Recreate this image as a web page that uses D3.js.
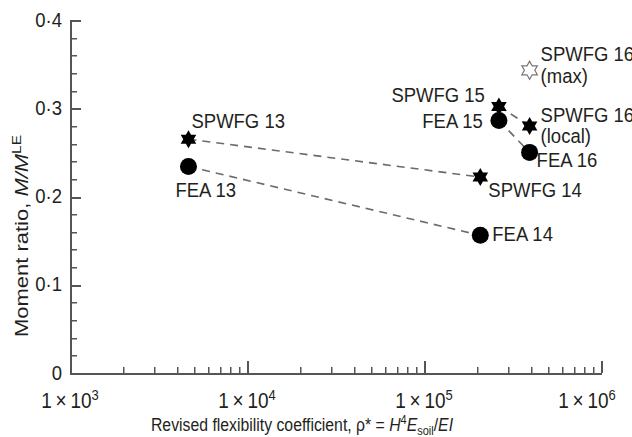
<!DOCTYPE html>
<html>
<head>
<meta charset="utf-8">
<script src="https://cdn.jsdelivr.net/npm/d3@7"></script>
<style>
  html, body { margin: 0; padding: 0; background: #fff; }
  svg { display: block; font-family: "Liberation Sans", Arial, sans-serif; }
</style>
</head>
<body>
<svg id="chart" width="632" height="437"></svg>
<script>
// Revised flexibility coefficient for each test case
const caseIds = ["13", "14", "15", "16"];
const flexibility = [4670, 2.08e5, 2.65e5, 3.95e5];
// Moment ratio M/M_LE
const spwfgRatio = [0.265, 0.222, 0.302, 0.280];
const feaRatio = [0.234, 0.156, 0.286, 0.250];
const spwfg16Max = 0.343;
// Pairs of cases joined by dashed lines
const links = [[0, 1], [2, 3]];
// Axis ticks
const xDecades = [3, 4, 5, 6];
const yMajor = [0, 0.1, 0.2, 0.3, 0.4];
const yMinor = [0.02, 0.04, 0.06, 0.08, 0.12, 0.14, 0.16, 0.18, 0.22, 0.24, 0.26, 0.28, 0.32, 0.34, 0.36, 0.38];

const svg = d3.select("#chart");
const plotLeft = 70, plotRight = 601, plotTop = 20, plotBottom = 373;

const xScale = d3.scaleLog().domain([1e3, 1e6]).range([plotLeft, plotRight]);
const yScale = d3.scaleLinear().domain([0, 0.4]).range([plotBottom, plotTop]);

const axisColor = "#555555";
const textColor = "#231f20";
// Text is drawn slightly taller than wide
const stretch = 1.12;

// Minor x ticks at 2..9 of each decade
const xMinor = [];
for (let dec = 3; dec < 6; dec++) for (let k = 2; k <= 9; k++) xMinor.push(k * Math.pow(10, dec));
const xMajor = xDecades.map(e => Math.pow(10, e));

// Axis frame drawn as thin filled bars: left and bottom rules with inward ticks
const frame = svg.append("g").attr("fill", axisColor);
const [x0, x1] = xScale.range();
const [y0, y1] = yScale.range();
frame.append("rect").attr("x", x0).attr("y", y0).attr("width", x1 - x0 + 1).attr("height", 2);
frame.append("rect").attr("x", x0).attr("y", y1).attr("width", 2).attr("height", y0 - y1 + 2);
frame.append("g").selectAll("rect").data(xMinor).join("rect")
  .attr("x", d => Math.round(xScale(d))).attr("y", y0 - 6).attr("width", 1.5).attr("height", 6);
frame.append("g").selectAll("rect").data(xMajor).join("rect")
  .attr("x", d => Math.round(xScale(d))).attr("y", y0 - 12).attr("width", 2).attr("height", 12);
frame.append("g").selectAll("rect").data(yMinor).join("rect")
  .attr("x", x0).attr("y", d => Math.round(yScale(d))).attr("width", 7).attr("height", 1.5);
frame.append("g").selectAll("rect").data(yMajor.filter(d => d > 0)).join("rect")
  .attr("x", x0).attr("y", d => Math.round(yScale(d))).attr("width", 11).attr("height", 2);

// Horizontal text helper: positioned by translate, stretched vertically
function hText(parent, tx, ty, size, anchor) {
  return parent.append("text")
    .attr("transform", `translate(${tx},${ty}) scale(1,${stretch})`)
    .attr("font-size", size).attr("fill", textColor)
    .attr("text-anchor", anchor || "start");
}

const fs = 18.5;

// y tick labels
yMajor.forEach(d => {
  hText(svg, plotLeft - 8, yScale(d) + 6.5, 18.5, "end")
    .text(d === 0 ? "0" : d3.format(".1f")(d).replace(".", "\u00b7"));
});

// x tick labels: 1 × 10^n
xDecades.forEach(d => {
  const t = hText(svg, xScale(Math.pow(10, d)) - (d === 6 ? 14 : 0), 408, 19, "middle");
  t.append("tspan").text("1\u2009\u00d7\u200910");
  t.append("tspan").attr("font-size", 13).attr("dy", -7).text(d);
});

// Axis titles
const xTitle = hText(svg, 302, 431, 15.8, "middle");
xTitle.append("tspan").text("Revised flexibility coefficient, \u03c1* = ");
xTitle.append("tspan").attr("font-style", "italic").text("H");
xTitle.append("tspan").attr("font-size", 11).attr("dy", -6).text("4");
xTitle.append("tspan").attr("font-style", "italic").attr("dy", 6).text("E");
xTitle.append("tspan").attr("font-size", 11).attr("dy", 4).text("soil");
xTitle.append("tspan").attr("dy", -4).text("/");
xTitle.append("tspan").attr("font-style", "italic").text("EI");

const yTitle = svg.append("text").attr("transform", `translate(28,236) rotate(-90) scale(${stretch * 1.06},1)`)
  .attr("text-anchor", "middle").attr("font-size", 18.5).attr("fill", textColor);
yTitle.append("tspan").text("Moment ratio, ");
yTitle.append("tspan").attr("font-style", "italic").text("M/M");
yTitle.append("tspan").attr("font-size", 13).attr("dy", -7).text("LE");

// Dashed connectors
const lineGroup = svg.append("g").attr("fill", "none").attr("stroke", "#6b6b6b")
  .attr("stroke-width", 1.6).attr("stroke-dasharray", "8,6");
links.forEach(([a, b]) => {
  [spwfgRatio, feaRatio].forEach(series => {
    lineGroup.append("line")
      .attr("x1", xScale(flexibility[a])).attr("y1", yScale(series[a]))
      .attr("x2", xScale(flexibility[b])).attr("y2", yScale(series[b]));
  });
});

// Six-pointed star marker path centred on the origin
function hexagram(R) {
  const r = R / Math.sqrt(3);
  const pth = d3.path();
  for (let i = 0; i < 12; i++) {
    const a = -Math.PI / 2 + i * Math.PI / 6;
    const rad = i % 2 === 0 ? R : r;
    const px = rad * Math.cos(a), py = rad * Math.sin(a);
    if (i === 0) pth.moveTo(px, py); else pth.lineTo(px, py);
  }
  pth.closePath();
  return pth.toString();
}

// FEA circles
svg.append("g").selectAll("circle").data(feaRatio).join("circle")
  .attr("cx", (d, i) => xScale(flexibility[i])).attr("cy", d => yScale(d))
  .attr("r", 8.5).attr("fill", "#000");

// SPWFG stars
svg.append("g").selectAll("path").data(spwfgRatio).join("path")
  .attr("transform", (d, i) => `translate(${xScale(flexibility[i])},${yScale(d)})`)
  .attr("d", hexagram(9)).attr("fill", "#000");

// SPWFG 16 maximum (open star)
svg.append("path")
  .attr("transform", `translate(${xScale(flexibility[3])},${yScale(spwfg16Max)})`)
  .attr("d", hexagram(9)).attr("fill", "#fff").attr("stroke", "#777").attr("stroke-width", 1.2);

// Point labels
const addLabel = (tx, ty, s, anchor) => hText(svg, tx, ty, fs, anchor).text(s);

const pos = i => [xScale(flexibility[i]), yScale(spwfgRatio[i]), yScale(feaRatio[i])];
let [cx, sy, fy] = pos(0);
addLabel(cx + 3, sy - 11, "SPWFG " + caseIds[0]);
addLabel(cx - 13, fy + 31, "FEA " + caseIds[0]);
[cx, sy, fy] = pos(1);
addLabel(cx + 8, sy + 20, "SPWFG " + caseIds[1]);
addLabel(cx + 12, fy + 6, "FEA " + caseIds[1]);
[cx, sy, fy] = pos(2);
addLabel(cx - 14, sy - 4, "SPWFG " + caseIds[2], "end");
addLabel(cx - 16, fy + 7, "FEA " + caseIds[2], "end");
[cx, sy, fy] = pos(3);
addLabel(cx + 11, sy - 4, "SPWFG " + caseIds[3]);
addLabel(cx + 11, sy + 17, "(local)");
addLabel(cx + 7, fy + 15, "FEA " + caseIds[3]);
const maxY = yScale(spwfg16Max);
addLabel(cx + 11, maxY - 9, "SPWFG " + caseIds[3]);
addLabel(cx + 11, maxY + 13, "(max)");
</script>
</body>
</html>
